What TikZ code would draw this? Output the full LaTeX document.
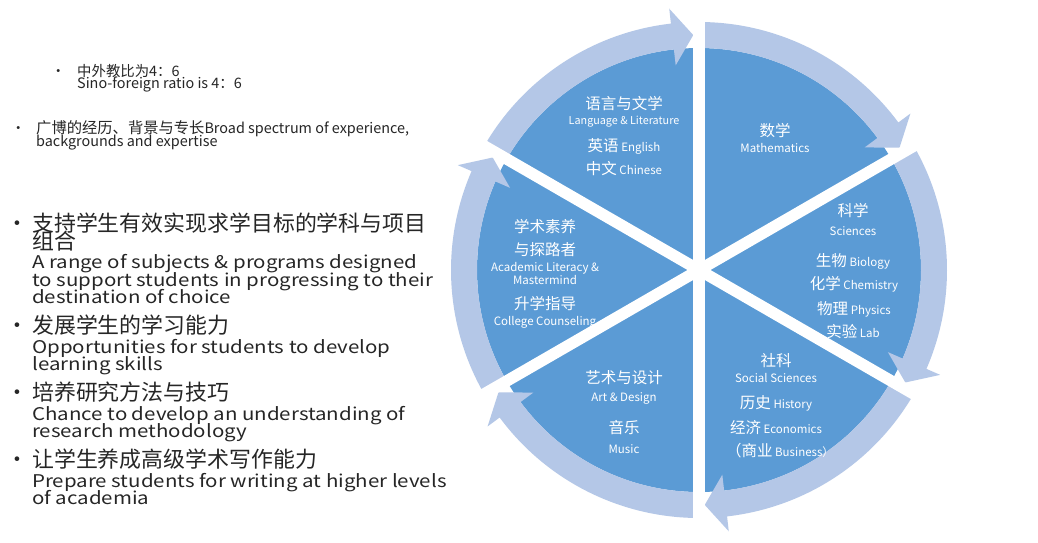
\documentclass[tikz,border=0pt]{standalone}
\usepackage{fontspec}
\setmainfont{Noto Sans CJK SC}
\newfontfamily\widelatin[FakeStretch=1.17]{Noto Sans CJK SC}
\usetikzlibrary{positioning}
\definecolor{piedark}{HTML}{5B9BD5}
\definecolor{ringlight}{HTML}{B4C7E7}
\definecolor{bodytext}{HTML}{262626}
\newcommand{\zhtxt}[1]{{\fontsize{15.5}{16}\selectfont #1}}
\newcommand{\bigen}{\widelatin\fontsize{17.5}{17.7}\selectfont}
\newcommand{\midzh}{\fontsize{15.3}{12.5}\selectfont}
\newcommand{\tightlines}{\setlength{\lineskiplimit}{-50pt}}
\tikzset{
    seglbl/.style={text=white, inner sep=0pt, font=\fontsize{11.5}{12}\selectfont},
    bigitem/.style={anchor=base west, align=left, inner sep=0pt, text=bodytext,
        font=\fontsize{21.9}{17.7}\selectfont\tightlines},
    smallitem/.style={anchor=base west, align=left, inner sep=0pt, text=bodytext,
        font=\fontsize{14.4}{12.5}\selectfont\tightlines},
    gapline/.style={white, line width=11.5pt},
}

\begin{document}
\begin{tikzpicture}[x=1pt, y=1pt]
\useasboundingbox (0,0) rectangle (1038,542);
\fill[white] (0,0) rectangle (1038,542);

% ── Left column ──
\node[smallitem] (dot1) at (51,465.3) {•};
\node[smallitem] (ratio) at (77,453) {中外教比为4：6\\Sino-foreign ratio is 4：6};
\node[smallitem] (dot2) at (11,408.3) {•};
\node[smallitem] (expert) at (36,395.7) {{\midzh 广博的经历、背景与专长}Broad spectrum of experience,\\backgrounds and expertise};

\node[bigitem] (dot3) at (6,310.5) {•};
\node[bigitem] (subjects) at (32,238.2) {支持学生有效实现求学目标的学科与项目\\组合\\[1.5pt]
    \bigen A range of subjects \& programs designed\\\bigen to support students in progressing to their\\\bigen destination of choice};
\node[bigitem] (dot4) at (6,208.2) {•};
\node[bigitem] (learning) at (32,171.3) {发展学生的学习能力\\[1.5pt]
    \bigen Opportunities for students to develop\\\bigen learning skills};
\node[bigitem] (dot5) at (6,141.2) {•};
\node[bigitem] (research) at (32,104.3) {培养研究方法与技巧\\[1.5pt]
    \bigen Chance to develop an understanding of\\\bigen research methodology};
\node[bigitem] (dot6) at (6,74.2) {•};
\node[bigitem] (writing) at (32,37.3) {让学生养成高级学术写作能力\\[1.5pt]
    \bigen Prepare students for writing at higher levels\\\bigen of academia};

% ── Cycle ──
\begin{scope}[shift={(699,272)}]
\fill[piedark] (0,0) circle[radius=222];
\foreach \a in {30,90,...,330} {
    \fill[ringlight] (\a+60:222) -- (\a+60:248)
        arc[start angle=\a+60, end angle=\a+6.5, radius=248]
        -- (\a+6.5:263) -- (\a+1.4:235) -- (\a+6.5:206) -- (\a+6.5:222)
        arc[start angle=\a+6.5, end angle=\a+60, radius=222] -- cycle;
}
\end{scope}

% Language & Literature
\node[seglbl] (lang1) at (624,438) {\zhtxt{语言与文学}};
\node[seglbl, font=\fontsize{10.8}{12}\selectfont] (lang2) at (624,420) {Language \& Literature};
\node[seglbl] (lang3) at (624,396) {\zhtxt{英语} English};
\node[seglbl] (lang4) at (624,373) {\zhtxt{中文} Chinese};

% Mathematics
\node[seglbl] (math1) at (775,411) {\zhtxt{数学}};
\node[seglbl] (math2) at (775,394) {Mathematics};

% Sciences
\node[seglbl] (sci1) at (853,331) {\zhtxt{科学}};
\node[seglbl] (sci2) at (853,311) {Sciences};
\node[seglbl] (sci3) at (853,281) {\zhtxt{生物} Biology};
\node[seglbl] (sci4) at (854,258) {\zhtxt{化学} Chemistry};
\node[seglbl] (sci5) at (854,233) {\zhtxt{物理} Physics};
\node[seglbl] (sci6) at (853,210) {\zhtxt{实验} Lab};

% Social Sciences
\node[seglbl] (soc1) at (776,181) {\zhtxt{社科}};
\node[seglbl] (soc2) at (776,164) {Social Sciences};
\node[seglbl] (soc3) at (776,139) {\zhtxt{历史} History};
\node[seglbl] (soc4) at (776,115) {\zhtxt{经济} Economics};
\node[seglbl] (soc5) at (780,91) {\zhtxt{（商业} Business）};

% Academic Literacy
\node[seglbl] (acad1) at (545,315) {\zhtxt{学术素养}};
\node[seglbl] (acad2) at (545,292) {\zhtxt{与探路者}};
\node[seglbl] (acad3) at (545,274) {Academic Literacy \&};
\node[seglbl] (acad4) at (545,262) {Mastermind};
\node[seglbl] (acad5) at (545,238) {\zhtxt{升学指导}};
\node[seglbl] (acad6) at (545,220) {College Counseling};

% Art & Design
\node[seglbl] (art1) at (624,164) {\zhtxt{艺术与设计}};
\node[seglbl] (art2) at (624,144) {Art \& Design};
\node[seglbl] (art3) at (624,114) {\zhtxt{音乐}};
\node[seglbl] (art4) at (624,93) {Music};

% Gaps between segments
\begin{scope}[shift={(699,272)}]
\foreach \a in {30,90,150}
    \draw[gapline] (\a:268) -- (\a+180:268);
\end{scope}

\end{tikzpicture}
\end{document}
